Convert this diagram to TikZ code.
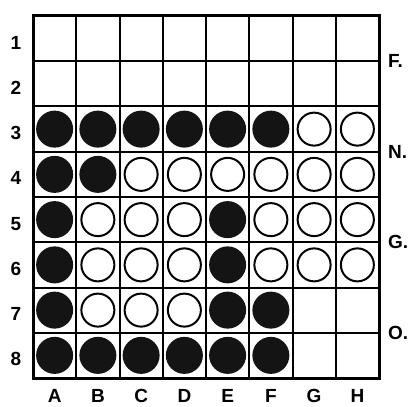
\documentclass[tikz,border=0pt]{standalone}
\usepackage{fontspec}
\setmainfont{Liberation Sans}
\begin{document}
\begin{tikzpicture}[x=1pt,y=-1pt,
  blk/.style={circle,fill=black!92,inner sep=0pt,minimum size=37pt},
  wht/.style={circle,draw=black,line width=2pt,fill=white,inner sep=0pt,minimum size=33pt},
  lbl/.style={font=\bfseries\fontsize{19}{19}\selectfont,inner sep=0pt},
  gridline/.style={line width=2pt},
  frame/.style={line width=3pt}]
\useasboundingbox[fill=white] (0,0) rectangle (414,406);
\def\xo{33}\def\yo{16}\def\cw{43.25}\def\ch{45.25}
% grid
\foreach \i in {1,...,7}{
  \draw[gridline] (\xo+\i*\cw,\yo) -- (\xo+\i*\cw,\yo+8*\ch);
  \draw[gridline] (\xo,\yo+\i*\ch) -- (\xo+8*\cw,\yo+\i*\ch);
}
\draw[frame] (\xo,\yo) rectangle (\xo+8*\cw,\yo+8*\ch);
% discs
\foreach \r/\c/\t in {
 3/1/blk,3/2/blk,3/3/blk,3/4/blk,3/5/blk,3/6/blk,3/7/wht,3/8/wht,
 4/1/blk,4/2/blk,4/3/wht,4/4/wht,4/5/wht,4/6/wht,4/7/wht,4/8/wht,
 5/1/blk,5/2/wht,5/3/wht,5/4/wht,5/5/blk,5/6/wht,5/7/wht,5/8/wht,
 6/1/blk,6/2/wht,6/3/wht,6/4/wht,6/5/blk,6/6/wht,6/7/wht,6/8/wht,
 7/1/blk,7/2/wht,7/3/wht,7/4/wht,7/5/blk,7/6/blk,
 8/1/blk,8/2/blk,8/3/blk,8/4/blk,8/5/blk,8/6/blk}{
  \node[\t] (d\r\c) at (\xo+\c*\cw-0.5*\cw,\yo+\r*\ch-0.5*\ch) {};
}
% row labels
\foreach \r in {1,...,8}{
  \node[lbl] (r\r) at (16,\yo+\r*\ch-0.5*\ch+4) {\r};
}
% column labels
\foreach \c/\L in {1/A,2/B,3/C,4/D,5/E,6/F,7/G,8/H}{
  \node[lbl] (c\c) at (\xo+\c*\cw-0.5*\cw,396) {\L};
}
% right labels
\node[lbl,anchor=west] (fF) at (388,\yo+1*\ch) {F.};
\node[lbl,anchor=west] (fN) at (388,\yo+3*\ch) {N.};
\node[lbl,anchor=west] (fG) at (388,\yo+5*\ch) {G.};
\node[lbl,anchor=west] (fO) at (388,\yo+7*\ch) {O.};
\end{tikzpicture}
\end{document}
